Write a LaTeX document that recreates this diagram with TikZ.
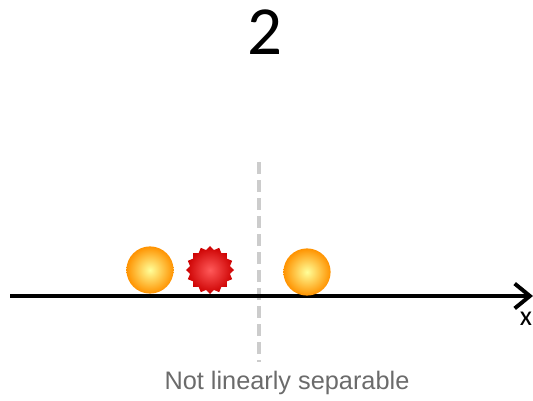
\documentclass[tikz,border=0pt]{standalone}
\usepackage{fontspec}
\setmainfont{Carlito}
\newfontfamily\labelfont{Liberation Sans}
\usetikzlibrary{shapes.geometric, arrows.meta}

\begin{document}
\begin{tikzpicture}[x=0.025cm, y=-0.025cm, >={Straight Barb[length=0.38cm, width=0.62cm, line width=2.8pt]}];

\useasboundingbox (0, 0) rectangle (533, 401);

\tikzset{
  ball/.style={circle, minimum size=1.18cm, inner sep=0pt, shading=radial,
               inner color=yellow!40!white, outer color=orange!85!yellow},
  burst/.style={star, star points=16, star point ratio=1.18, minimum size=1.2cm,
                inner sep=0pt, shading=radial, inner color=red!65, outer color=red!80!black}
}

\node (title) at (265, 32) [font=\fontsize{49}{50}\selectfont] {2};

\coordinate (xstart) at (10, 296);
\coordinate (xend)   at (533, 296);
\coordinate (ytop)   at (259, 162);
\coordinate (ybot)   at (259, 362);

% separating line
\draw[line width=3.5pt, gray!40, dash pattern=on 0.3cm off 0.15cm] (ytop) -- (ybot);

% the axis
\draw[->, line width=2.8pt] (xstart) -- (xend);
\node (xlabel) at (526, 319) [font=\fontsize{20}{21}\selectfont, inner sep=0pt] {x};

% points on the axis
\node (p1) at (150, 270) [ball] {};
\node (p2) at (210, 270) [burst] {};
\node (p3) at (307, 272) [ball] {};

\node (caption) at (287, 383) [font=\labelfont\fontsize{18}{19}\selectfont, text=black!58] {Not linearly separable};

\end{tikzpicture}
\end{document}
